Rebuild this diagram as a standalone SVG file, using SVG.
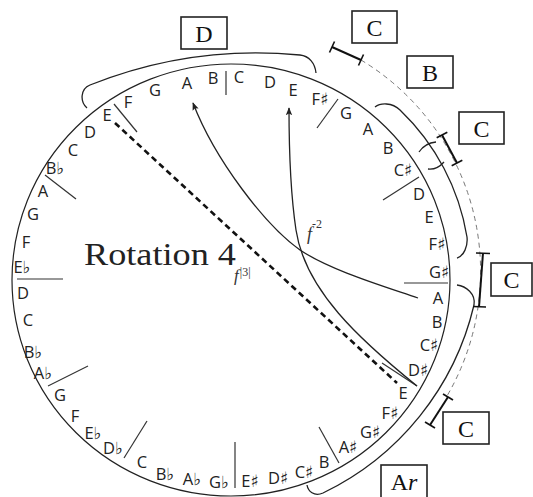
<svg xmlns="http://www.w3.org/2000/svg" width="533" height="497" viewBox="0 0 533 497">
  <style>
    .ring { fill: none; stroke: #222; stroke-width: 1.2; }
    .tick { stroke: #333; stroke-width: 1.2; }
    .note { font-family: "Open Sans", "DejaVu Sans", sans-serif; font-size: 16.5px; fill: #222; text-anchor: middle; }
    .acc { font-family: "DejaVu Sans", sans-serif; font-size: 17px; }
    .brace { fill: none; stroke: #222; stroke-width: 1.3; }
    .span { fill: none; stroke: #111; stroke-width: 2; }
    .cap { fill: none; stroke: #111; stroke-width: 1.6; }
    .label rect { fill: #fff; stroke: #222; stroke-width: 1.6; }
    .label text { font-family: "Liberation Serif", "DejaVu Serif", serif; font-size: 24px; fill: #111; text-anchor: middle; }
    .fn { font-family: "Liberation Serif", "DejaVu Serif", serif; font-style: italic; fill: #333; }
  </style>
  <defs>
    <marker id="arrow" viewBox="0 0 10 10" refX="9" refY="5" markerWidth="8" markerHeight="8" markerUnits="userSpaceOnUse" orient="auto">
      <path d="M0,1 L10,5 L0,9 L2,5 Z" fill="#222"/>
    </marker>
  </defs>

  <!-- main pitch circle -->
  <g id="circle">
    <ellipse class="ring" cx="231" cy="280" rx="219" ry="216"/>
  </g>

  <!-- segment dividers -->
  <g id="ticks">
    <line class="tick" x1="226" y1="71" x2="226" y2="95"/>
    <line class="tick" x1="338" y1="99" x2="317" y2="128"/>
    <line class="tick" x1="419" y1="177" x2="383" y2="200"/>
    <line class="tick" x1="404" y1="283" x2="448" y2="283"/>
    <line class="tick" x1="382" y1="363" x2="417" y2="386"/>
    <line class="tick" x1="319" y1="427" x2="339" y2="463"/>
    <line class="tick" x1="235" y1="442" x2="235" y2="488"/>
    <line class="tick" x1="124" y1="458" x2="147" y2="421"/>
    <line class="tick" x1="48" y1="386" x2="88" y2="366"/>
    <line class="tick" x1="17" y1="279" x2="63" y2="279"/>
    <line class="tick" x1="45" y1="175" x2="76" y2="199"/>
    <line class="tick" x1="114" y1="104" x2="137" y2="132"/>
  </g>

  <!-- note names around the circle -->
  <g id="notes" class="note">
    <text x="239" y="83">C</text>
    <text x="270" y="88">D</text>
    <text x="293" y="96">E</text>
    <text x="320" y="105">F<tspan class="acc">♯</tspan></text>
    <text x="346" y="119">G</text>
    <text x="368" y="135">A</text>
    <text x="388" y="154">B</text>
    <text x="403" y="176">C<tspan class="acc">♯</tspan></text>
    <text x="419" y="200">D</text>
    <text x="429" y="223">E</text>
    <text x="437" y="250">F<tspan class="acc">♯</tspan></text>
    <text x="439" y="278">G<tspan class="acc">♯</tspan></text>
    <text x="438" y="304">A</text>
    <text x="437" y="328">B</text>
    <text x="429" y="351">C<tspan class="acc">♯</tspan></text>
    <text x="418" y="376">D<tspan class="acc">♯</tspan></text>
    <text x="403" y="399">E</text>
    <text x="390" y="419">F<tspan class="acc">♯</tspan></text>
    <text x="370" y="438">G<tspan class="acc">♯</tspan></text>
    <text x="348" y="453">A<tspan class="acc">♯</tspan></text>
    <text x="324" y="468">B</text>
    <text x="304" y="478">C<tspan class="acc">♯</tspan></text>
    <text x="278" y="484">D<tspan class="acc">♯</tspan></text>
    <text x="250" y="487">E<tspan class="acc">♯</tspan></text>
    <text x="219" y="488">G<tspan class="acc">♭</tspan></text>
    <text x="192" y="485">A<tspan class="acc">♭</tspan></text>
    <text x="165" y="480">B<tspan class="acc">♭</tspan></text>
    <text x="142" y="468">C</text>
    <text x="113" y="454">D<tspan class="acc">♭</tspan></text>
    <text x="93" y="439">E<tspan class="acc">♭</tspan></text>
    <text x="75" y="422">F</text>
    <text x="60" y="401">G</text>
    <text x="43" y="379">A<tspan class="acc">♭</tspan></text>
    <text x="33" y="358">B<tspan class="acc">♭</tspan></text>
    <text x="28" y="326">C</text>
    <text x="23" y="299">D</text>
    <text x="22" y="273">E<tspan class="acc">♭</tspan></text>
    <text x="26" y="248">F</text>
    <text x="33" y="220">G</text>
    <text x="43" y="197">A</text>
    <text x="55" y="174">B<tspan class="acc">♭</tspan></text>
    <text x="73" y="156">C</text>
    <text x="90" y="138">D</text>
    <text x="107" y="121">E</text>
    <text x="128" y="108">F</text>
    <text x="155" y="96">G</text>
    <text x="187" y="89">A</text>
    <text x="213" y="84">B</text>
  </g>

  <!-- title -->
  <g id="title">
    <text x="84" y="265" font-family="Liberation Serif, DejaVu Serif, serif" font-size="31" fill="#222" textLength="152" lengthAdjust="spacingAndGlyphs">Rotation 4</text>
  </g>

  <!-- connectors: transformation paths and brackets -->
  <g id="connectors">
    <line x1="115" y1="123" x2="397" y2="383" stroke="#111" stroke-width="2.6" stroke-dasharray="6,4"/>
    <path class="brace" d="M418,298 C380,285 330,270 300,250 C265,225 215,160 193,103" marker-end="url(#arrow)"/>
    <path class="brace" d="M417,386 C360,340 305,290 296,230 C290,190 289,150 289,108" marker-end="url(#arrow)"/>

    <!-- bracket over the top segment -->
    <path class="brace" d="M87,108 C80,102 80,89 90,85 A450,450 0 0 1 300,55 C309,56 315,63 316,73"/>
    <!-- bracket G..G# -->
    <path class="brace" d="M375,107 C380,103 392,102 400,110 A227,227 0 0 1 467,237 C468,246 464,256 457,258"/>
    <!-- short crossing arcs beside C# -->
    <path class="brace" d="M419,152 Q425,143 436,142"/>
    <path class="brace" d="M428,169 Q437,170 444,162"/>
    <!-- bracket A..C# -->
    <path class="brace" d="M457,285 C466,286 476,294 474,305 A280,280 0 0 1 323,493 C314,497 308,491 307,485"/>

    <!-- dashed outer guide -->
    <path d="M361,60 A247,247 0 0 1 447,396" fill="none" stroke="#777" stroke-width="1" stroke-dasharray="5,4"/>

    <!-- span markers -->
    <line class="span" x1="332" y1="47" x2="361" y2="60"/>
    <line class="cap" x1="334.5" y1="41.5" x2="329.5" y2="52.5"/>
    <line class="cap" x1="363.5" y1="54.5" x2="358.5" y2="65.5"/>

    <line class="span" x1="442" y1="135" x2="457" y2="163"/>
    <line class="cap" x1="447.3" y1="132.2" x2="436.7" y2="137.8"/>
    <line class="cap" x1="462.3" y1="160.2" x2="451.7" y2="165.8"/>

    <line class="span" x1="483" y1="253" x2="479" y2="307"/>
    <line class="cap" x1="476" y1="253" x2="490" y2="253.5"/>
    <line class="cap" x1="473" y1="306.5" x2="486" y2="307"/>

    <line class="span" x1="448" y1="397" x2="430" y2="425"/>
    <line class="cap" x1="453" y1="400" x2="443" y2="394"/>
    <line class="cap" x1="435" y1="428" x2="425" y2="422"/>
  </g>

  <!-- function labels -->
  <g id="fn-labels">
    <text class="fn" x="307" y="240" font-size="18">f<tspan font-size="12" dy="-12" font-style="normal">-2</tspan></text>
    <text class="fn" x="234" y="281" font-size="17">f<tspan font-size="12" dx="1" dy="-5" font-style="normal">|3|</tspan></text>
  </g>

  <!-- boxed labels -->
  <g id="box-D" class="label"><rect x="181" y="17" width="46" height="32"/><text x="204" y="42">D</text></g>
  <g id="box-C1" class="label"><rect x="352" y="11" width="45" height="32"/><text x="374.5" y="36">C</text></g>
  <g id="box-B" class="label"><rect x="407" y="56" width="46" height="32"/><text x="430" y="81">B</text></g>
  <g id="box-C2" class="label"><rect x="459" y="112" width="45" height="32"/><text x="481.5" y="137">C</text></g>
  <g id="box-C3" class="label"><rect x="491" y="263" width="41" height="33"/><text x="511.5" y="288">C</text></g>
  <g id="box-C4" class="label"><rect x="443" y="412" width="46" height="32"/><text x="466" y="437">C</text></g>
  <g id="box-Ar" class="label"><rect x="381" y="465" width="46" height="33"/><text x="404" y="490">A<tspan font-style="italic">r</tspan></text></g>
</svg>
